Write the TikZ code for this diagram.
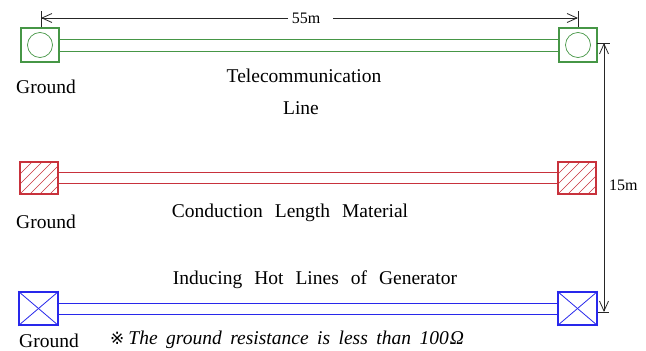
\documentclass[tikz,border=0pt]{standalone}
\usepackage{fontspec}
\setmainfont{Liberation Serif}
\newfontfamily\symfont{DejaVu Sans}
\usetikzlibrary{arrows.meta}
\definecolor{gline}{RGB}{70,150,70}
\definecolor{rline}{RGB}{200,50,60}
\definecolor{bline}{RGB}{40,40,235}
\newcommand\widewords{\spaceskip=12pt\relax}
\newcommand\notewords{\spaceskip=8.5pt\relax}
\tikzset{
  lbl/.style={font=\fontsize{19.5}{22}\selectfont, execute at begin node=\widewords, inner sep=0pt},
  dimlbl/.style={font=\fontsize{16}{18}\selectfont, inner sep=0pt},
  gbox/.style={draw=gline, line width=1.3pt, minimum width=38pt, minimum height=34pt, inner sep=0pt},
  rbox/.style={draw=rline, line width=1.3pt, minimum width=38pt, minimum height=32pt, inner sep=0pt},
  bbox/.style={draw=bline, line width=1.5pt, minimum width=39pt, minimum height=33pt, inner sep=0pt},
  dimline/.style={line width=0.8pt, black!85},
  dimarrow/.style={dimline, -{Straight Barb[length=10pt,width=9pt]}},
  wire/.style={line width=1pt},
}
\begin{document}
\begin{tikzpicture}[x=1pt,y=-1pt]
\useasboundingbox (0,0) rectangle (646,351);
% green telecommunication line
\node[gbox] (g1) at (40,45) {};
\node[gbox] (g2) at (578,45) {};
\draw[gline, line width=0.7pt] (g1.center) circle (12.5);
\draw[gline, line width=0.7pt] (g2.center) circle (12.5);
\draw[wire, gline] ([yshift=-6pt]g1.east) -- ([yshift=-6pt]g2.west);
\draw[wire, gline] ([yshift=6pt]g1.east) -- ([yshift=6pt]g2.west);
% red conduction line
\node[rbox] (r1) at (39,178) {};
\node[rbox] (r2) at (577,178) {};
\foreach \b in {r1,r2}{
  \begin{scope}
    \clip (\b.south west) rectangle (\b.north east);
    \foreach \k in {-30,-20,...,40}{
      \draw[rline, line width=0.6pt] ([xshift=\k pt]\b.south west) -- ++(40,-40);
    }
  \end{scope}
}
\draw[wire, rline] ([yshift=-5.5pt]r1.east) -- ([yshift=-5.5pt]r2.west);
\draw[wire, rline] ([yshift=5.5pt]r1.east) -- ([yshift=5.5pt]r2.west);
% blue hot line
\node[bbox] (b1) at (38.5,308.5) {};
\node[bbox] (b2) at (577.5,308.5) {};
\foreach \b in {b1,b2}{
  \draw[bline, line width=0.8pt] (\b.north west) -- (\b.south east);
  \draw[bline, line width=0.8pt] (\b.south west) -- (\b.north east);
}
\draw[wire, bline] ([yshift=-5.5pt]b1.east) -- ([yshift=-5.5pt]b2.west);
\draw[wire, bline] ([yshift=5.5pt]b1.east) -- ([yshift=5.5pt]b2.west);
% horizontal dimension
\coordinate (dl) at (41,18);
\coordinate (dr) at (578,18);
\coordinate (gapl) at (288,18);
\coordinate (gapr) at (333,18);
\node[dimlbl] (d55) at (306,18) {55m};
\draw[dimline] (41,11) -- (41,27);
\draw[dimline] (578,11) -- (578,27);
\draw[dimarrow] (gapl) -- (dl);
\draw[dimarrow] (gapr) -- (dr);
% vertical dimension
\coordinate (vt) at (604,43);
\coordinate (vb) at (604,312);
\coordinate (vm) at (604,180);
\draw[dimline] (597,43) -- (610,43);
\draw[dimline] (598,312) -- (609,312);
\draw[dimarrow] (vm) -- (vt);
\draw[dimarrow] (vm) -- (vb);
\node[dimlbl, anchor=west] (d15) at (609,185) {15m};
% labels
\node[lbl] (t1) at (46,87) {Ground};
\node[lbl] (t2) at (46,222) {Ground};
\node[lbl] (t3) at (49,340.5) {Ground};
\node[lbl] (tel) at (304,76) {Telecommunication};
\node[lbl] (lin) at (301,108) {Line};
\node[lbl] (con) at (290,213) {Conduction Length Material};
\node[lbl] (ind) at (315,280) {Inducing Hot Lines of Generator};
\node[lbl, anchor=west] (note) at (110,340) {{\symfont\fontsize{17}{18}\selectfont ※}\hspace{4pt}\itshape\notewords The ground resistance is less than 100\kern1pt Ω};
\end{tikzpicture}
\end{document}
